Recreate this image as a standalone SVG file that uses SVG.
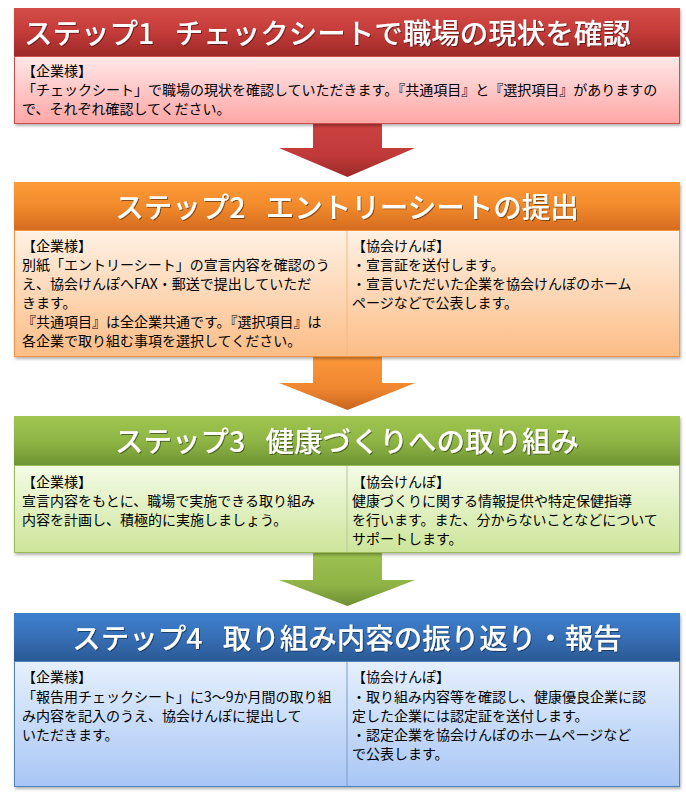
<svg xmlns="http://www.w3.org/2000/svg" width="686" height="795" viewBox="0 0 686 795">
<style>
.h{font-family:"Noto Sans CJK JP","Noto Sans",sans-serif;font-size:28.5px;font-weight:500;fill:#fff;filter:url(#ts)}
.b{font-family:"Noto Sans CJK JP","Noto Sans",sans-serif;font-size:14px;fill:#000}
</style>
<defs>
<filter id="sh" x="-5%" y="-10%" width="110%" height="125%"><feDropShadow dx="1" dy="2" stdDeviation="1.5" flood-color="#000" flood-opacity="0.3"/></filter>
<filter id="ts" x="-5%" y="-20%" width="110%" height="150%"><feDropShadow dx="1" dy="1" stdDeviation="0.6" flood-color="#000" flood-opacity="0.45"/></filter>
<linearGradient id="h1" x1="0" y1="0" x2="0" y2="1"><stop offset="0" stop-color="#d44c47"/><stop offset="0.5" stop-color="#c43b39"/><stop offset="1" stop-color="#9c2827"/></linearGradient>
<linearGradient id="b1" x1="0" y1="0" x2="0" y2="1"><stop offset="0" stop-color="#ffe8e8"/><stop offset="1" stop-color="#ffa6a6"/></linearGradient>
<linearGradient id="h2" x1="0" y1="0" x2="0" y2="1"><stop offset="0" stop-color="#fe9b38"/><stop offset="0.5" stop-color="#f18a2c"/><stop offset="1" stop-color="#d56b1f"/></linearGradient>
<linearGradient id="b2" x1="0" y1="0" x2="0" y2="1"><stop offset="0" stop-color="#fff1e5"/><stop offset="1" stop-color="#fcbd86"/></linearGradient>
<linearGradient id="h3" x1="0" y1="0" x2="0" y2="1"><stop offset="0" stop-color="#a0c650"/><stop offset="0.5" stop-color="#8fb545"/><stop offset="1" stop-color="#6f9434"/></linearGradient>
<linearGradient id="b3" x1="0" y1="0" x2="0" y2="1"><stop offset="0" stop-color="#f4fbe6"/><stop offset="1" stop-color="#cde59a"/></linearGradient>
<linearGradient id="h4" x1="0" y1="0" x2="0" y2="1"><stop offset="0" stop-color="#3e80cf"/><stop offset="0.5" stop-color="#376fb6"/><stop offset="1" stop-color="#2a5a95"/></linearGradient>
<linearGradient id="b4" x1="0" y1="0" x2="0" y2="1"><stop offset="0" stop-color="#e6f0fd"/><stop offset="1" stop-color="#a8c6f5"/></linearGradient>
<linearGradient id="a1" x1="0" y1="0" x2="0" y2="1"><stop offset="0" stop-color="#cb4140"/><stop offset="0.6" stop-color="#c03a39"/><stop offset="1" stop-color="#9a2a29"/></linearGradient>
<linearGradient id="a2" x1="0" y1="0" x2="0" y2="1"><stop offset="0" stop-color="#fb963a"/><stop offset="0.6" stop-color="#ef8630"/><stop offset="1" stop-color="#c8651d"/></linearGradient>
<linearGradient id="a3" x1="0" y1="0" x2="0" y2="1"><stop offset="0" stop-color="#9cc24e"/><stop offset="0.6" stop-color="#8fb347"/><stop offset="1" stop-color="#6e8f32"/></linearGradient>
</defs>
<rect width="686" height="795" fill="#fff"/>

<g id="connectors">
<polygon points="313,124 382,124 382,148 415,148 347.5,177 279,148 313,148" fill="url(#a1)"/>
<polygon points="313,357 382,357 382,383 415,383 347.5,410 279,383 313,383" fill="url(#a2)"/>
<polygon points="313,553 382,553 382,580 415,580 347.5,606 279,580 313,580" fill="url(#a3)"/>
</g>

<g id="step1">
<g filter="url(#sh)">
<rect x="14" y="8" width="666" height="48" fill="url(#h1)"/>
<rect x="14.5" y="56.5" width="665" height="67" fill="url(#b1)" stroke="#c9504d" stroke-width="1"/>
</g>
<text class="h" x="24" y="44">ステップ1 <tspan dx="14">チェックシートで職場の現状を確認</tspan></text>
<text class="b" x="22" y="76">【企業様】</text>
<text class="b" x="22" y="95">「チェックシート」で職場の現状を確認していただきます。『共通項目』と『選択項目』がありますの</text>
<text class="b" x="22" y="114">で、それぞれ確認してください。</text>
</g>

<g id="step2">
<g filter="url(#sh)">
<rect x="14" y="182" width="666" height="48" fill="url(#h2)"/>
<rect x="14.5" y="230.5" width="665" height="126" fill="url(#b2)" stroke="#f39443" stroke-width="1"/>
<line x1="347" y1="231" x2="347" y2="356" stroke="#f4b884" stroke-width="1"/>
</g>
<text class="h" x="347" y="218" text-anchor="middle">ステップ2 <tspan dx="14">エントリーシートの提出</tspan></text>
<text class="b" x="22" y="251">【企業様】</text>
<text class="b" x="22" y="270">別紙「エントリーシート」の宣言内容を確認のう</text>
<text class="b" x="22" y="289">え、協会けんぽへFAX・郵送で提出していただ</text>
<text class="b" x="22" y="308">きます。</text>
<text class="b" x="22" y="327">『共通項目』は全企業共通です。『選択項目』は</text>
<text class="b" x="22" y="346">各企業で取り組む事項を選択してください。</text>
<text class="b" x="352" y="251">【協会けんぽ】</text>
<text class="b" x="352" y="270">・宣言証を送付します。</text>
<text class="b" x="352" y="289">・宣言いただいた企業を協会けんぽのホーム</text>
<text class="b" x="352" y="308">ページなどで公表します。</text>
</g>

<g id="step3">
<g filter="url(#sh)">
<rect x="14" y="416" width="666" height="49" fill="url(#h3)"/>
<rect x="14.5" y="465.5" width="665" height="87" fill="url(#b3)" stroke="#9bbb59" stroke-width="1"/>
<line x1="347" y1="466" x2="347" y2="552" stroke="#b5c99a" stroke-width="1"/>
</g>
<text class="h" x="347" y="452" text-anchor="middle">ステップ3 <tspan dx="14">健康づくりへの取り組み</tspan></text>
<text class="b" x="22" y="487">【企業様】</text>
<text class="b" x="22" y="506">宣言内容をもとに、職場で実施できる取り組み</text>
<text class="b" x="22" y="525">内容を計画し、積極的に実施しましょう。</text>
<text class="b" x="352" y="487">【協会けんぽ】</text>
<text class="b" x="352" y="506">健康づくりに関する情報提供や特定保健指導</text>
<text class="b" x="352" y="525">を行います。また、分からないことなどについて</text>
<text class="b" x="352" y="544">サポートします。</text>
</g>

<g id="step4">
<g filter="url(#sh)">
<rect x="14" y="613" width="666" height="48" fill="url(#h4)"/>
<rect x="14.5" y="661.5" width="665" height="125" fill="url(#b4)" stroke="#4f81bd" stroke-width="1"/>
<line x1="347" y1="662" x2="347" y2="786" stroke="#7d9cc6" stroke-width="1"/>
</g>
<text class="h" x="347" y="649" text-anchor="middle">ステップ4 <tspan dx="14">取り組み内容の振り返り・報告</tspan></text>
<text class="b" x="22" y="682">【企業様】</text>
<text class="b" x="22" y="702">「報告用チェックシート」に3～9か月間の取り組</text>
<text class="b" x="22" y="721">み内容を記入のうえ、協会けんぽに提出して</text>
<text class="b" x="22" y="740">いただきます。</text>
<text class="b" x="352" y="682">【協会けんぽ】</text>
<text class="b" x="352" y="702">・取り組み内容等を確認し、健康優良企業に認</text>
<text class="b" x="352" y="721">定した企業には認定証を送付します。</text>
<text class="b" x="352" y="740">・認定企業を協会けんぽのホームページなど</text>
<text class="b" x="352" y="759">で公表します。</text>
</g>
</svg>
